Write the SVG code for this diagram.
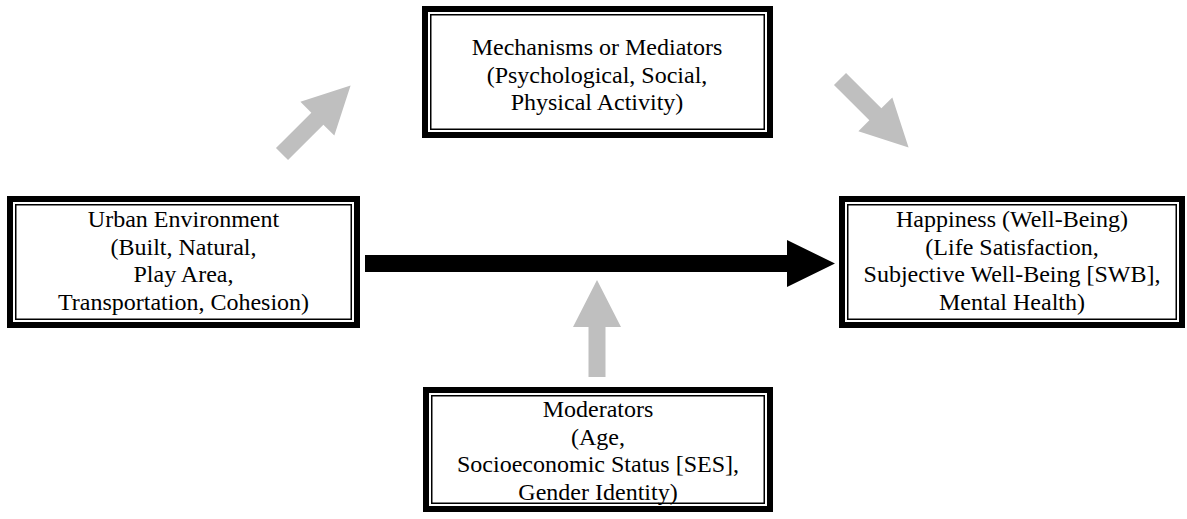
<svg xmlns="http://www.w3.org/2000/svg" width="1187" height="519" viewBox="0 0 1187 519">
<style>
.outer{fill:#fff;stroke:#000;stroke-width:6}
.inner{fill:none;stroke:#000;stroke-width:1.5}
.t{font-family:"Liberation Serif","Times New Roman",serif;font-size:24px;fill:#000;text-anchor:middle}
.g{fill:#bfbfbf}
</style>
<defs>
<polygon id="ga" points="0,-8.5 50,-8.5 50,-24 97,0 50,24 50,8.5 0,8.5"/>
</defs>
<rect width="1187" height="519" fill="#fff"/>
<g id="connectors">
<use href="#ga" class="g" transform="translate(282,154) rotate(-45)"/>
<use href="#ga" class="g" transform="translate(840,79) rotate(45)"/>
<use href="#ga" class="g" transform="translate(597,377) rotate(-90)"/>
<polygon points="365,255 787,255 787,240 835,263.5 787,287 787,272 365,272" fill="#000"/>
</g>
<g id="mediators">
<rect class="outer" x="425" y="9" width="345" height="126"/>
<rect class="inner" x="430.75" y="14.75" width="333.5" height="114.5"/>
<text class="t" x="597" y="55">Mechanisms or Mediators</text>
<text class="t" x="597" y="82.5">(Psychological, Social,</text>
<text class="t" x="597" y="110">Physical Activity)</text>
</g>
<g id="urban">
<rect class="outer" x="10" y="199" width="347" height="126"/>
<rect class="inner" x="15.75" y="204.75" width="335.5" height="114.5"/>
<text class="t" x="183.5" y="227">Urban Environment</text>
<text class="t" x="183.5" y="254.5">(Built, Natural,</text>
<text class="t" x="183.5" y="282">Play Area,</text>
<text class="t" x="183.5" y="309.5">Transportation, Cohesion)</text>
</g>
<g id="happiness">
<rect class="outer" x="842" y="199" width="340" height="126"/>
<rect class="inner" x="847.75" y="204.75" width="328.5" height="114.5"/>
<text class="t" x="1012" y="227">Happiness (Well-Being)</text>
<text class="t" x="1012" y="254.5">(Life Satisfaction,</text>
<text class="t" x="1012" y="282">Subjective Well-Being [SWB],</text>
<text class="t" x="1012" y="309.5">Mental Health)</text>
</g>
<g id="moderators">
<rect class="outer" x="426" y="390" width="344" height="119"/>
<rect class="inner" x="431.75" y="395.75" width="332.5" height="107.5"/>
<text class="t" x="598" y="417">Moderators</text>
<text class="t" x="598" y="444.5">(Age,</text>
<text class="t" x="598" y="472">Socioeconomic Status [SES],</text>
<text class="t" x="598" y="499.5">Gender Identity)</text>
</g>
</svg>
